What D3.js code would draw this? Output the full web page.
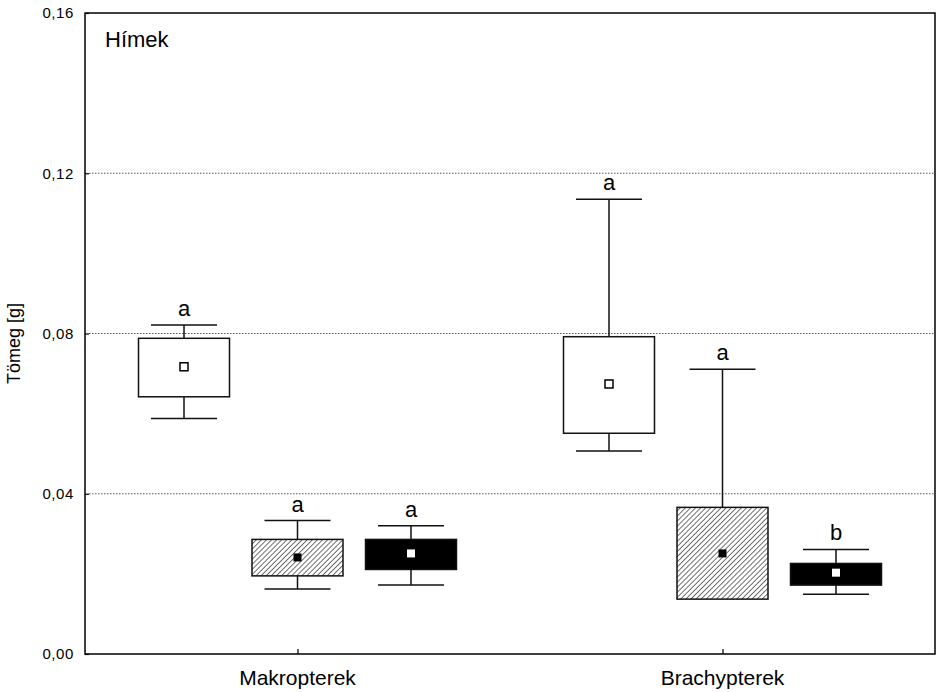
<!DOCTYPE html>
<html>
<head>
<meta charset="utf-8">
<script src="https://cdn.jsdelivr.net/npm/d3@7"></script>
<style>
  body { margin: 0; background: #fff; }
  svg { display: block; font-family: "Liberation Sans", Arial, sans-serif; }
</style>
</head>
<body>
<div id="chart"></div>
<script>
// frame and margins
const FRAME_WIDTH = 938;
const FRAME_HEIGHT = 692;
const MARGINS = {left: 85, right: 3, top: 13, bottom: 38};
const VIS_WIDTH = FRAME_WIDTH - MARGINS.left - MARGINS.right;
const VIS_HEIGHT = FRAME_HEIGHT - MARGINS.top - MARGINS.bottom;

// data
const GROUPS = ["Makropterek", "Brachypterek"];
const SERIES = ["white", "hatched", "black"];
const Y_TICKS = [0, 0.04, 0.08, 0.12, 0.16];
const Y_TICK_LABELS = ["0,00", "0,04", "0,08", "0,12", "0,16"];
// one row per group, one entry per series
const WHISKER_HIGH = [[0.0821, 0.0333, 0.0320], [0.1135, 0.0711, 0.0261]];
const BOX_HIGH     = [[0.0788, 0.0286, 0.0286], [0.0792, 0.0366, 0.0226]];
const MEAN         = [[0.0717, 0.0241, 0.0251], [0.0674, 0.0251, 0.0203]];
const BOX_LOW      = [[0.0642, 0.0195, 0.0211], [0.0551, 0.0137, 0.0172]];
const WHISKER_LOW  = [[0.0588, 0.0162, 0.0172], [0.0507, 0.0137, 0.0149]];
const LETTERS      = [["a", "a", "a"], ["a", "a", "b"]];

const BOX_W = 91;
const CAP_W = 66;
const MARK = 8;

const svg = d3.select("#chart")
  .append("svg")
    .attr("width", FRAME_WIDTH)
    .attr("height", FRAME_HEIGHT);

// hatch pattern
const defs = svg.append("defs");
defs.append("pattern")
    .attr("id", "hatch")
    .attr("patternUnits", "userSpaceOnUse")
    .attr("width", 3.6)
    .attr("height", 3.6)
    .attr("patternTransform", "rotate(45)")
  .call(p => {
    p.append("rect").attr("width", 3.6).attr("height", 3.6).attr("fill", "#fff");
    p.append("line").attr("x1", 0).attr("y1", 0).attr("x2", 0).attr("y2", 3.6)
      .attr("stroke", "#222").attr("stroke-width", 1.3);
  });

const g = svg.append("g")
    .attr("transform", `translate(${MARGINS.left},${MARGINS.top})`);

// scales
const X = d3.scalePoint().domain(GROUPS).range([0, VIS_WIDTH]).padding(0.5);
const XS = d3.scalePoint().domain(SERIES).range([-113.5, 113.5]);
const Y = d3.scaleLinear().domain([0, 0.16]).range([VIS_HEIGHT, 0]);

// dotted grid
g.selectAll(".grid")
  .data(Y_TICKS.filter(d => d > 0 && d < 0.16))
  .enter().append("line")
    .attr("x1", 4).attr("x2", VIS_WIDTH)
    .attr("y1", d => Y(d)).attr("y2", d => Y(d))
    .attr("stroke", "#555").attr("stroke-width", 1)
    .attr("stroke-dasharray", "1.5,1.5");

// axes
g.append("g")
    .call(d3.axisRight(Y).tickValues(Y_TICKS).tickSize(4).tickFormat(""))
    .call(a => a.select(".domain").remove())
    .selectAll("line").attr("stroke", "#000").attr("stroke-width", 1.2);

g.selectAll(".ylab")
  .data(Y_TICKS)
  .enter().append("text")
    .attr("x", -11)
    .attr("y", d => Y(d))
    .attr("dy", "0.35em")
    .attr("text-anchor", "end")
    .attr("font-size", 15)
    .attr("letter-spacing", 0.6)
    .text((d, i) => Y_TICK_LABELS[i]);

g.append("g")
    .attr("transform", `translate(0,${VIS_HEIGHT})`)
    .call(d3.axisTop(X).tickSize(5).tickFormat(""))
    .call(a => a.select(".domain").remove())
    .selectAll("line").attr("stroke", "#000").attr("stroke-width", 1.2);

g.selectAll(".xlab")
  .data(GROUPS)
  .enter().append("text")
    .attr("x", d => X(d))
    .attr("y", VIS_HEIGHT + 31)
    .attr("text-anchor", "middle")
    .attr("font-size", 21)
    .text(d => d);

// frame
g.append("rect")
    .attr("width", VIS_WIDTH).attr("height", VIS_HEIGHT)
    .attr("fill", "none").attr("stroke", "#000").attr("stroke-width", 1.5);

// boxes
const items = [];
GROUPS.forEach((grp, gi) => {
  SERIES.forEach((s, si) => {
    items.push({
      cx: X(grp) + XS(s), s: s,
      wh: WHISKER_HIGH[gi][si], bh: BOX_HIGH[gi][si], m: MEAN[gi][si],
      bl: BOX_LOW[gi][si], wl: WHISKER_LOW[gi][si], letter: LETTERS[gi][si]
    });
  });
});

const boxes = g.selectAll(".box").data(items).enter().append("g");

boxes.append("line")
    .attr("x1", d => d.cx).attr("x2", d => d.cx)
    .attr("y1", d => Y(d.wh)).attr("y2", d => Y(d.wl))
    .attr("stroke", "#111").attr("stroke-width", 1.5);
boxes.filter(d => d.wh > d.bh).append("line")
    .attr("x1", d => d.cx - CAP_W / 2).attr("x2", d => d.cx + CAP_W / 2)
    .attr("y1", d => Y(d.wh)).attr("y2", d => Y(d.wh))
    .attr("stroke", "#111").attr("stroke-width", 1.5);
boxes.filter(d => d.wl < d.bl).append("line")
    .attr("x1", d => d.cx - CAP_W / 2).attr("x2", d => d.cx + CAP_W / 2)
    .attr("y1", d => Y(d.wl)).attr("y2", d => Y(d.wl))
    .attr("stroke", "#111").attr("stroke-width", 1.5);

boxes.append("rect")
    .attr("x", d => d.cx - BOX_W / 2)
    .attr("width", BOX_W)
    .attr("y", d => Y(d.bh))
    .attr("height", d => Y(d.bl) - Y(d.bh))
    .attr("fill", d => d.s === "white" ? "#fff" : d.s === "hatched" ? "url(#hatch)" : "#000")
    .attr("stroke", "#111").attr("stroke-width", 1.5);

boxes.append("rect")
    .attr("x", d => d.cx - MARK / 2)
    .attr("y", d => Y(d.m) - MARK / 2)
    .attr("width", MARK).attr("height", MARK)
    .attr("fill", d => d.s === "hatched" ? "#000" : "#fff")
    .attr("stroke", d => d.s === "white" ? "#000" : "none")
    .attr("stroke-width", 1.5);

boxes.append("text")
    .attr("x", d => d.cx)
    .attr("y", d => Y(d.wh) - 9)
    .attr("text-anchor", "middle")
    .attr("font-size", 22)
    .text(d => d.letter);

// titles
g.append("text")
    .attr("x", 20).attr("y", 34)
    .attr("font-size", 22)
    .text("Hímek");

svg.append("text")
    .attr("transform", `translate(20,${MARGINS.top + Y(0.0775)}) rotate(-90)`)
    .attr("text-anchor", "middle")
    .attr("font-size", 18)
    .text("Tömeg [g]");
</script>
</body>
</html>
